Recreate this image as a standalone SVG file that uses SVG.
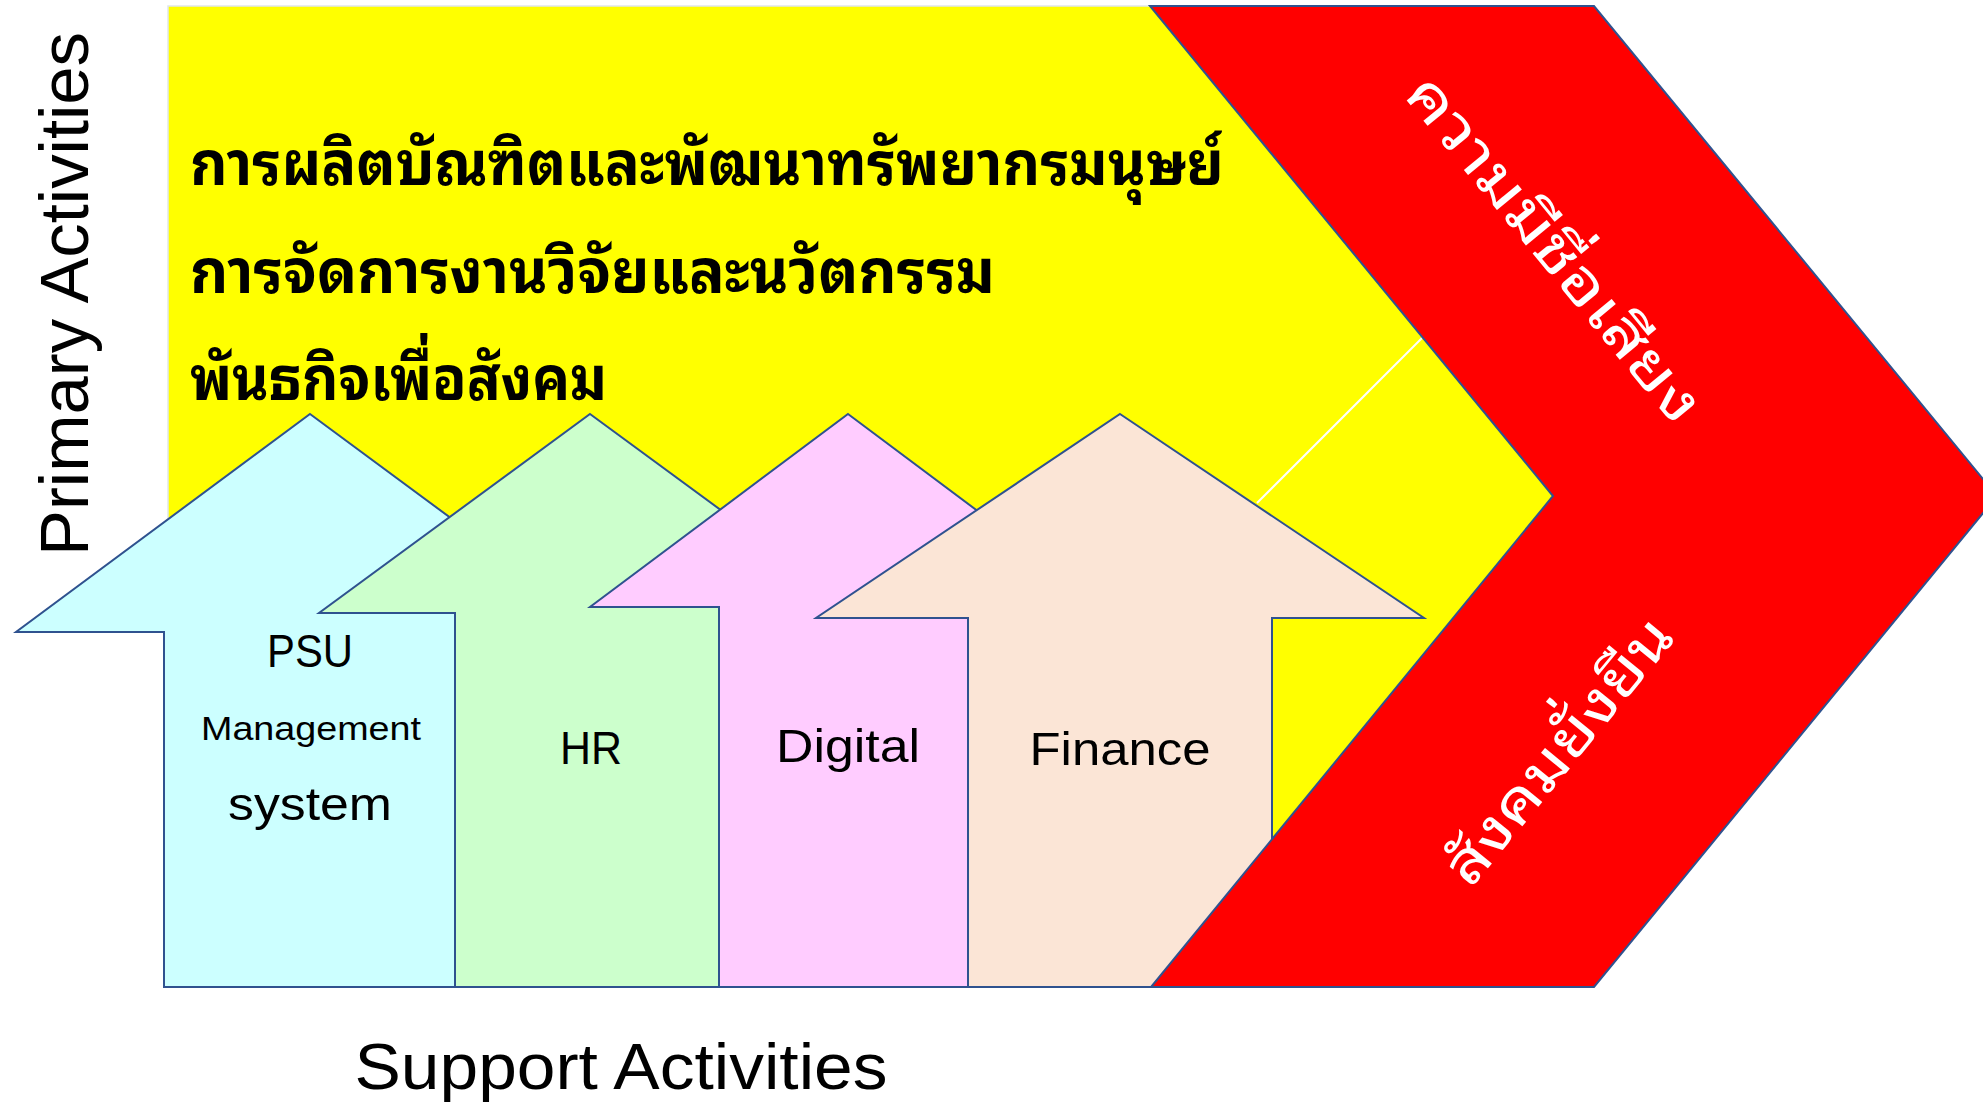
<svg xmlns="http://www.w3.org/2000/svg" width="1983" height="1104" viewBox="0 0 1983 1104">
<style>
.arrow{stroke:#2F528F;stroke-width:2;stroke-linejoin:miter}
.lbl{font-family:"Liberation Sans",Arial,sans-serif;fill:#000;text-anchor:middle}
.th{font-family:"Noto Sans Thai Looped","Tahoma","Loma","Garuda","Kinnari","Noto Sans Thai","Noto Sans","DejaVu Sans",sans-serif;font-weight:bold}
.thr{font-family:"Noto Sans Thai Looped","Tahoma","Loma","Garuda","Kinnari","Noto Sans Thai","Noto Sans","DejaVu Sans",sans-serif;font-weight:normal}
</style>
<rect width="1983" height="1104" fill="#FFFFFF"/>
<g id="primary-band">
<rect x="168" y="6" width="1400" height="981" fill="#FFFF00" stroke="#E1E6EC" stroke-width="1.5"/>
</g>
<g id="connectors">
<line x1="1423" y1="337" x2="1257" y2="503" stroke="#FFFFFF" stroke-width="2"/>
</g>
<g id="psu">
<polygon class="arrow" fill="#CCFFFF" points="310,414 605,632 457,632 457,987 164,987 164,632 16,632"/>
</g>
<g id="hr">
<polygon class="arrow" fill="#CCFFCC" points="590,414 861,613 720,613 720,987 455,987 455,613 319,613"/>
</g>
<g id="digital">
<polygon class="arrow" fill="#FFCCFF" points="848,414 1106,607 969,607 969,987 719,987 719,607 590,607"/>
</g>
<g id="finance">
<polygon class="arrow" fill="#FBE5D6" points="1120,414 1424,618 1272,618 1272,987 968,987 968,618 816,618"/>
</g>
<g id="outcome">
<polygon fill="#FF0000" stroke="#2F528F" stroke-width="2" points="1150,6 1594,6 1997,496 1594,987 1151,987 1553,496"/>
<text class="thr" fill="#FFFFFF" font-size="58" text-anchor="middle" transform="translate(1553,250) rotate(50.6)" x="0" y="18" textLength="430" lengthAdjust="spacingAndGlyphs">ความมีชื่อเสียง</text>
<text class="thr" fill="#FFFFFF" font-size="58" text-anchor="middle" transform="translate(1560,752) rotate(-50.6)" x="0" y="18" textLength="326" lengthAdjust="spacingAndGlyphs">สังคมยั่งยืน</text>
</g>
<g id="primary-text">
<text class="th" fill="#000" font-size="60" x="190" y="185" textLength="1034" lengthAdjust="spacingAndGlyphs">การผลิตบัณฑิตและพัฒนาทรัพยากรมนุษย์</text>
<text class="th" fill="#000" font-size="60" x="190" y="293" textLength="805" lengthAdjust="spacingAndGlyphs">การจัดการงานวิจัยและนวัตกรรม</text>
<text class="th" fill="#000" font-size="60" x="190" y="400" textLength="417" lengthAdjust="spacingAndGlyphs">พันธกิจเพื่อสังคม</text>
</g>
<g id="labels">
<text class="lbl" font-size="47" x="310" y="667" textLength="86" lengthAdjust="spacingAndGlyphs">PSU</text>
<text class="lbl" font-size="33" x="311" y="740" textLength="220" lengthAdjust="spacingAndGlyphs">Management</text>
<text class="lbl" font-size="47" x="310" y="820" textLength="164" lengthAdjust="spacingAndGlyphs">system</text>
<text class="lbl" font-size="47" x="591" y="764" textLength="62" lengthAdjust="spacingAndGlyphs">HR</text>
<text class="lbl" font-size="47" x="848" y="762" textLength="144" lengthAdjust="spacingAndGlyphs">Digital</text>
<text class="lbl" font-size="47" x="1120" y="765" textLength="181" lengthAdjust="spacingAndGlyphs">Finance</text>
<text class="lbl" font-size="64" x="621" y="1089" textLength="533" lengthAdjust="spacingAndGlyphs">Support Activities</text>
<text class="lbl" font-size="68" style="text-anchor:start" transform="translate(88,556) rotate(-90)" x="0" y="0" textLength="524" lengthAdjust="spacingAndGlyphs">Primary Activities</text>
</g>
</svg>
